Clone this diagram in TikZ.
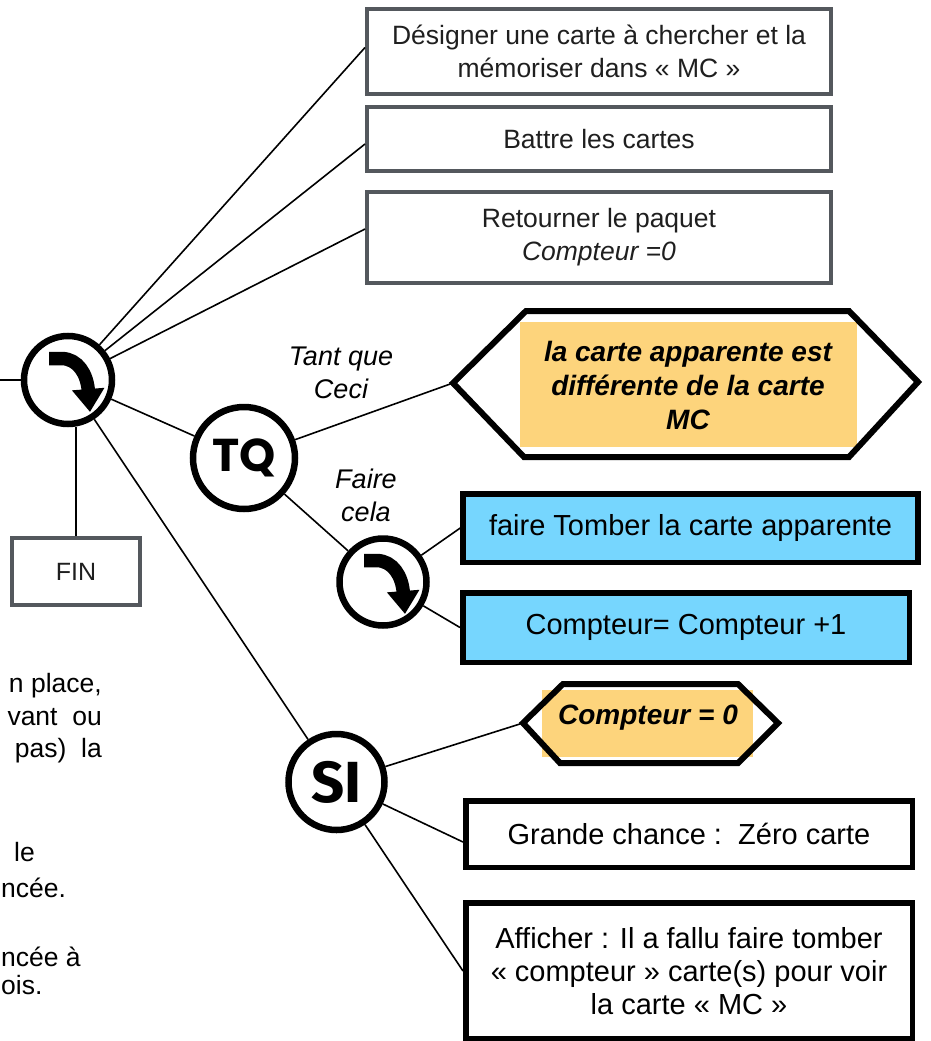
\documentclass[tikz,border=0pt]{standalone}
\usepackage{fontspec}
\setmainfont{Liberation Sans}
\newfontfamily\tqfont{Poppins}
\newfontfamily\sifont{Fira Sans}
\usetikzlibrary{arrows.meta}
\definecolor{boxgray}{HTML}{54585D}
\definecolor{cyanfill}{HTML}{76D6FE}
\definecolor{orangefill}{HTML}{FDD47C}
\newcommand\seqarrow[1]{%
  \draw[line width=13.5pt,-{Triangle[length=23pt,width=31pt]}]
    ([shift={(-19,-21.5)}]#1.center) -- ([shift={(-6,-21.5)}]#1.center)
    .. controls ([shift={(10,-21)}]#1.center) and ([shift={(19,-6)}]#1.center)
    .. ([shift={(22,32)}]#1.center);}
\begin{document}
\begin{tikzpicture}[x=1pt,y=-1pt,
  conn/.style={line width=1.6pt},
  graybox/.style={draw=boxgray,line width=4pt,fill=white,inner sep=0pt,align=center,text=black!88,font=\fontsize{26.5}{33}\selectfont},
  bluebox/.style={draw=black,line width=5.5pt,fill=cyanfill,inner sep=0pt,align=center,font=\fontsize{29}{33}\selectfont},
  whitebox/.style={draw=black,line width=5.5pt,fill=white,inner sep=0pt,align=center,font=\fontsize{29}{33}\selectfont},
  ring/.style={circle,draw=black,line width=6.5pt,fill=white,inner sep=0pt},
  hexline/.style={line width=6pt,line join=miter},
  lab/.style={align=center,font=\itshape\fontsize{27}{33}\selectfont},
  side/.style={font=\fontsize{26.5}{33}\selectfont,inner sep=0pt}
]
\useasboundingbox (0,0) rectangle (930,1041);
\clip (0,0) rectangle (930,1041);

% top boxes
\node[graybox,minimum width=464pt,minimum height=85pt] (b1) at (599,51.5) {Désigner une carte à chercher et la\\mémoriser dans « MC »};
\node[graybox,minimum width=464pt,minimum height=64pt] (b2) at (599,139) {Battre les cartes};
\node[graybox,minimum width=464pt,minimum height=91pt] (b3) at (599,237.5) {Retourner le paquet\\\textit{Compteur =0}};
\node[graybox,font=\fontsize{25}{30}\selectfont,minimum width=128pt,minimum height=67pt] (fin) at (76,571.5) {FIN};

% hexagon 1
\fill[orangefill] (520,322) rectangle (857,447);
\draw[hexline] (453,383) -- (526,311) -- (849,311) -- (918,382) -- (849,457) -- (524,457) -- cycle;
\coordinate (h1w) at (453,383);
\node[font=\bfseries\itshape\fontsize{28}{34}\selectfont,align=center] (h1) at (688,385) {la carte apparente est\\différente de la carte\\MC};

% hexagon 2
\fill[orangefill] (542,690) rectangle (753,757);
\draw[hexline] (523,723) -- (563,684) -- (738,684) -- (778,723) -- (738,763) -- (560,763) -- cycle;
\coordinate (h2w) at (523,723);
\node[font=\bfseries\itshape\fontsize{28}{34}\selectfont] (h2) at (648,718) {Compteur = 0};

% action boxes
\node[bluebox,minimum width=455pt,minimum height=68.5pt] (c1) at (690.5,528) {faire Tomber la carte apparente};
\node[bluebox,minimum width=446.5pt,minimum height=69.5pt] (c2) at (686,627.5) {Compteur= Compteur +1};
\node[whitebox,minimum width=446.5pt,minimum height=66.5pt] (g) at (689,834) {Grande chance :\ \ Zéro carte};
\node[whitebox,minimum width=446.5pt,minimum height=136pt] (aff) at (689,971) {Afficher : Il a fallu faire tomber\\« compteur » carte(s) pour voir\\la carte « MC »};

% circles
\node[ring,minimum size=88pt] (seq) at (68,380) {};
\node[ring,minimum size=102pt,font=\tqfont\bfseries\fontsize{46}{46}\selectfont] (tq) at (244,458) {TQ};
\node[ring,minimum size=96pt,font=\sifont\bfseries\fontsize{58}{58}\selectfont] (si) at (336.5,782) {SI};
\node[ring,minimum size=87pt] (seqb) at (383,582) {};
\seqarrow{seq}
\seqarrow{seqb}

% labels
\node[lab] (tantque) at (341,373) {Tant que\\Ceci};
\node[lab] (faire) at (366,495) {Faire\\cela};

% connectors
\coordinate (lft) at (0,380);
\draw[conn] (lft) -- (seq);
\draw[conn] (seq) -- ([yshift=4pt]b1.west);
\draw[conn] (seq) -- ([yshift=-5pt]b2.west);
\draw[conn] (seq) -- ([yshift=8.5pt]b3.west);
\draw[conn] (fin.north) -- (fin.north |- seq.south);
\draw[conn] (seq) -- (tq);
\draw[conn] (seq) -- (si);
\draw[conn] (tq) -- (h1w);
\draw[conn] (tq) -- (seqb);
\draw[conn] (seqb) -- (c1.west);
\draw[conn] (seqb) -- (c2.west);
\draw[conn] (si) -- (h2w);
\draw[conn] (si) -- ([yshift=-8pt]g.west);
\draw[conn] (si) -- (aff.west);

% side text (cut at the left edge in the original)
\node[side,anchor=base east] (s1) at (102,692) {n place,};
\node[side,anchor=base east] (s2) at (102,725) {vant\ \ ou};
\node[side,anchor=base east] (s3) at (102,757) {pas)\ \ la};
\node[side,anchor=base west] (s4) at (14,861) {le};
\node[side,anchor=base west] (s5) at (1,897) {ncée.};
\node[side,anchor=base west] (s6) at (1,966) {ncée à};
\node[side,anchor=base west] (s7) at (1,994) {ois.};
\end{tikzpicture}
\end{document}
